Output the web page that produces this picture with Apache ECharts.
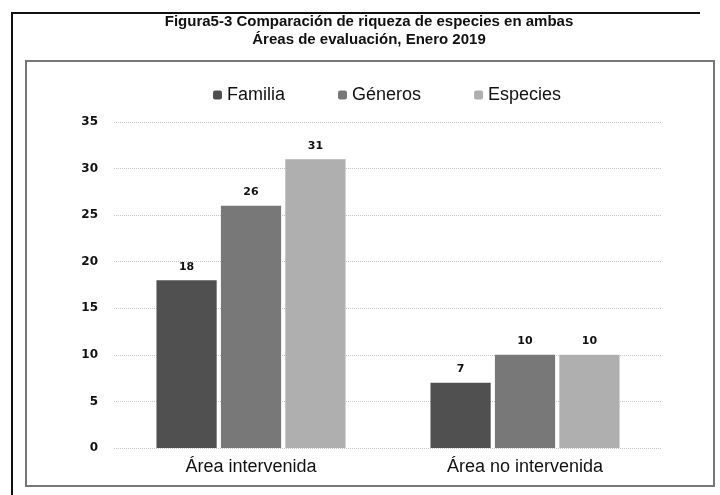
<!DOCTYPE html>
<html><head><meta charset="utf-8">
<script src="https://cdn.jsdelivr.net/npm/echarts@6/dist/echarts.min.js"></script>
<style>html,body{margin:0;padding:0;background:#fff}#c{width:720px;height:495px}</style>
</head><body><div id="c"></div>
<script>
const categories = ['Área intervenida', 'Área no intervenida'];
const seriesNames = ['Familia', 'Géneros', 'Especies'];
const familia = [18, 7];
const generos = [26, 10];
const especies = [31, 10];
const yTicks = [0, 5, 10, 15, 20, 25, 30, 35];
const colors = ['#505050', '#787878', '#afafaf'];

const chart = echarts.init(document.getElementById('c'));
const vals = [familia, generos, especies];
chart.setOption({
  animation: false,
  title: {
    text: 'Figura5-3 Comparación de riqueza de especies en ambas\nÁreas de evaluación, Enero 2019',
    left: 364, top: 8, textAlign: 'center',
    textStyle: {fontFamily: 'Liberation Sans', fontSize: 15, fontWeight: 'bold', color: '#111', lineHeight: 18}
  },
  legend: {
    top: 81, left: 208, itemWidth: 9, itemHeight: 9, itemGap: 53,
    textStyle: {fontFamily: 'Liberation Sans', fontSize: 18, color: '#111'},
    data: seriesNames
  },
  grid: {left: 114, right: 58, top: 122, bottom: 47},
  xAxis: {
    type: 'category', data: categories,
    axisLine: {show: false}, axisTick: {show: false},
    axisLabel: {fontFamily: 'Liberation Sans', fontSize: 18, color: '#111', margin: 10}
  },
  yAxis: {
    type: 'value', min: yTicks[0], max: yTicks[yTicks.length - 1], interval: 5,
    axisLine: {show: false}, axisTick: {show: false},
    axisLabel: {fontFamily: 'DejaVu Sans', fontSize: 12, fontWeight: 'bold', color: '#111', margin: 16},
    splitLine: {lineStyle: {type: 'dotted', color: '#c8c8c8', width: 1}}
  },
  series: seriesNames.map((n, i) => ({
    name: n, type: 'bar', data: vals[i], barGap: '7%', barCategoryGap: '31%',
    itemStyle: {color: colors[i]},
    label: {show: true, position: 'top', distance: 8, fontFamily: 'DejaVu Sans', fontSize: 11, fontWeight: 'bold', color: '#111'}
  })),
  graphic: [
    {type: 'polyline', shape: {points: [[12, 495], [12, 13], [700, 13]]}, style: {stroke: '#111', lineWidth: 2, fill: null}},
    {type: 'rect', shape: {x: 26, y: 61, width: 688, height: 425}, style: {stroke: '#777', lineWidth: 2, fill: null}}
  ]
});
</script></body></html>
